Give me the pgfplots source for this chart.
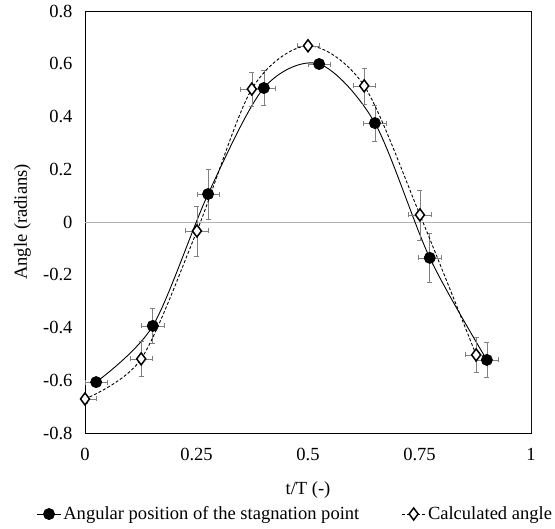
\documentclass[border=0pt]{standalone}
\usepackage{pgfplots}
\pgfplotsset{compat=1.18}
\usepackage{fontspec}
\setmainfont{Liberation Serif}
\newcommand{\chartfont}{\fontsize{18.6}{22}\selectfont}
\begin{document}
\begin{tikzpicture}[font=\chartfont]
\useasboundingbox (-85bp,-96bp) rectangle (470bp,433bp);
\begin{axis}[
  at={(0,0)}, anchor=south west,
  scale only axis, width=446bp, height=422bp,
  xmin=0, xmax=1, ymin=-0.8, ymax=0.8,
  xtick={0,0.25,0.5,0.75,1},
  xticklabels={0,0.25,0.5,0.75,1},
  ytick={-0.8,-0.6,-0.4,-0.2,0,0.2,0.4,0.6,0.8},
  yticklabels={-0.8,-0.6,-0.4,-0.2,0,0.2,0.4,0.6,0.8},
  major tick length=0pt,
  tick label style={font=\chartfont},
  label style={font=\chartfont},
  yticklabel style={xshift=-9bp},
  xticklabel style={yshift=-12bp},
  xlabel={t/T (-)}, ylabel={Angle (radians)},
  xlabel style={at={(0.5,-0.135)}, anchor=center},
  ylabel style={at={(-0.14,0.5)}, anchor=center},
  axis line style={black, line width=0.9bp},
  legend columns=2,
  legend style={draw=none, at={(1.052,-0.192)}, anchor=east, font=\chartfont,
    inner xsep=0pt, /tikz/every even column/.append style={column sep=40bp}},
  legend image code/.code={\draw[mark repeat=2,mark phase=2] plot coordinates {(0cm,0cm)(0.42cm,0cm)(0.84cm,0cm)};},
]
\addplot[gray!60, line width=0.8bp, forget plot] coordinates {(0,0) (1,0)};
\draw[gray, line width=1bp] (rel axis cs:1,0) -- (rel axis cs:1,1);
\addplot[black, line width=0.9bp, smooth, mark=*, mark size=5.5bp,
  error bars/.cd, x dir=both, x explicit, y dir=both, y explicit,
  error bar style={gray, line width=0.6bp},
  error mark options={rotate=90, gray, mark size=2.5bp, line width=0.6bp}]
  table[x=x, y=y, x error=ex, y error=ey] {
x y ex ey
0.025 -0.607 0.025 0.015
0.152 -0.394 0.025 0.065
0.276 0.106 0.025 0.094
0.401 0.508 0.025 0.066
0.525 0.599 0.025 0.015
0.650 0.375 0.025 0.068
0.773 -0.136 0.025 0.094
0.901 -0.523 0.025 0.066
};
\addlegendentry{Angular position of the stagnation point}
\addplot[black, line width=0.9bp, smooth, dash pattern=on 3bp off 2bp,
  mark=diamond*, mark size=6bp, mark options={solid, fill=white, line width=1.5bp},
  error bars/.cd, x dir=both, x explicit, y dir=both, y explicit,
  error bar style={gray, line width=0.6bp, solid},
  error mark options={rotate=90, gray, mark size=2.5bp, line width=0.6bp, solid}]
  table[x=x, y=y, x error=ex, y error=ey] {
x y ex ey
0.000 -0.671 0.025 0.015
0.126 -0.519 0.025 0.066
0.251 -0.034 0.025 0.095
0.374 0.504 0.025 0.065
0.500 0.668 0.025 0.015
0.626 0.516 0.025 0.068
0.751 0.027 0.025 0.095
0.877 -0.504 0.025 0.066
};
\addlegendentry{Calculated angle}
\end{axis}
\end{tikzpicture}
\end{document}
